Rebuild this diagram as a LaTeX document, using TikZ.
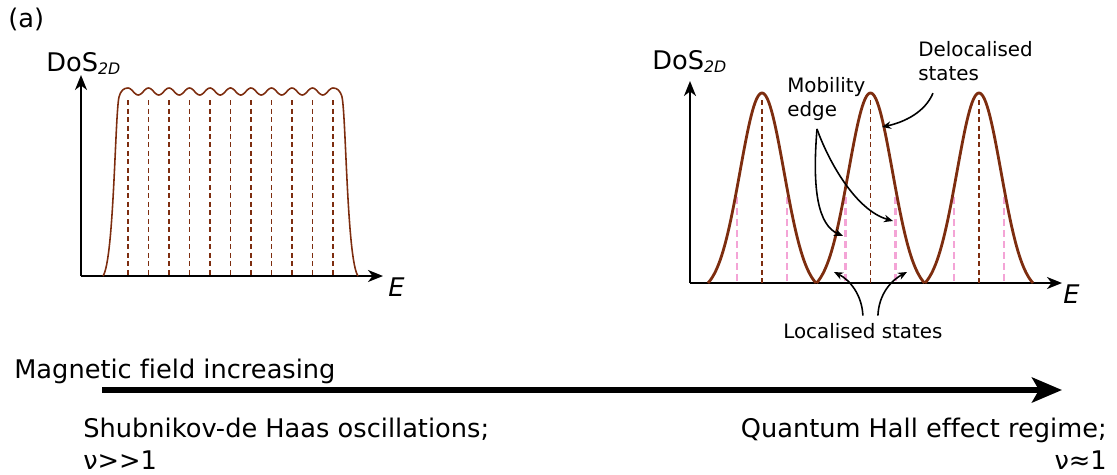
\documentclass[tikz,border=0pt]{standalone}
\usepackage{fontspec}
\setmainfont{DejaVu Sans}[Ligatures=NoCommon]
\usetikzlibrary{arrows.meta}
\definecolor{dosbrown}{RGB}{125,45,15}
\definecolor{edgepink}{RGB}{244,164,214}

\begin{document}
\begin{tikzpicture}[x=0.02cm, y=-0.02cm,
    axisline/.style={line width=1.1pt, -{Stealth[length=3mm, width=2.4mm, inset=0.9mm]}},
    band/.style={dosbrown, line width=0.9pt},
    peak/.style={dosbrown, line width=1.6pt},
    level/.style={dosbrown, line width=1pt, dash pattern=on 0.1cm off 0.07cm},
    edgeline/.style={edgepink, line width=1.3pt, dash pattern=on 0.14cm off 0.08cm},
    pointer/.style={line width=0.9pt, -{Stealth[length=1.8mm, width=1.5mm]}},
    fieldarrow/.style={line width=3.2pt, -{Stealth[length=6mm, width=5mm, inset=1.4mm]}},
    smalllabel/.style={font=\fontsize{11.3}{13.7}\selectfont, inner sep=0pt, align=left},
    biglabel/.style={font=\fontsize{14.6}{17.5}\selectfont, inner sep=0pt}]
    \useasboundingbox (0,0) rectangle (1117,474);

    % Panel label
    \node[biglabel, anchor=base west] (panel) at (8,27) {(a)};

    % Left panel: axes
    \coordinate (lorigin) at (81,276);
    \coordinate (ltop) at (81,75);
    \coordinate (lright) at (383,276);
    \draw[axisline] (lorigin) -- (ltop);
    \draw[axisline] (lorigin) -- (lright);
    \node[biglabel, anchor=base west] (ldos) at (46,71) {DoS\raisebox{-2pt}{\fontsize{9}{10}\selectfont\itshape 2D}};
    \node[biglabel, anchor=base west] (lenergy) at (388,296) {\itshape E};

    % Left panel: Landau levels under a broad band
    \foreach \i in {0,...,10} {
        \draw[level] ({128+20.5*\i},100) -- ({128+20.5*\i},276);
    }
    \draw[band] (103,276) .. controls (114,260) and (115,115) .. (119,97)
        .. controls (121,90) and (124,88) .. (128,88)
        -- plot[domain=128:333, samples=220] (\x, {91.5-3.5*cos(17.561*(\x-128))})
        -- (333,88) .. controls (337,88) and (340,90) .. (342,97)
        .. controls (346,115) and (347,260) .. (358,276);

    % Right panel: axes
    \coordinate (rorigin) at (690,283);
    \coordinate (rtop) at (690,81);
    \coordinate (rright) at (1062,283);
    \draw[axisline] (rorigin) -- (rtop);
    \draw[axisline] (rorigin) -- (rright);
    \node[biglabel, anchor=base west] (rdos) at (652,69) {DoS\raisebox{-2pt}{\fontsize{9}{10}\selectfont\itshape 2D}};
    \node[biglabel, anchor=base west] (renergy) at (1063,303) {\itshape E};

    % Right panel: separated Landau levels
    \foreach \c in {762,870.5,979} {
        \draw[edgeline] (\c-25,197) -- (\c-25,283);
        \draw[edgeline] (\c+25,197) -- (\c+25,283);
        \draw[level] (\c,100) -- (\c,283);
        \draw[peak] plot[domain=-54:54, samples=81] ({\c+\x}, {283-190*(exp(-(\x*\x)/968)-0.0492)/0.9508});
    }

    % Annotations
    \node[smalllabel, anchor=north west] (mobility) at (787,77) {Mobility\\edge};
    \node[smalllabel, anchor=north west] (deloc) at (918,41) {Delocalised\\states};
    \node[smalllabel, anchor=base west] (loc) at (783,338) {Localised states};
    \coordinate (edgeA) at (843,236);
    \coordinate (edgeB) at (893,221);
    \coordinate (centre) at (882,127);
    \coordinate (tailA) at (834,272);
    \coordinate (tailB) at (907,272);
    \draw[pointer] ([shift={(30,8)}]mobility.south west) .. controls (828,160) and (855,210) .. (edgeB);
    \draw[pointer] ([shift={(30,8)}]mobility.south west) .. controls (812,190) and (818,225) .. (edgeA);
    \draw[pointer] ([shift={(15,12)}]deloc.south west) .. controls (925,112) and (905,122) .. (centre);
    \draw[pointer] ([shift={(0,-7)}]loc.north) .. controls (862,295) and (850,280) .. (tailA);
    \draw[pointer] ([shift={(15,-7)}]loc.north) .. controls (879,293) and (892,280) .. (tailB);

    % Field axis
    \node[biglabel, anchor=base west] (field) at (14,378.5) {Magnetic field increasing};
    \coordinate (fieldstart) at (102,390);
    \coordinate (fieldend) at (1062,390);
    \draw[fieldarrow] (fieldstart) -- (fieldend);

    % Regimes
    \node[biglabel, anchor=base west] (sdh) at (83,437) {Shubnikov-de Haas oscillations;};
    \node[biglabel, anchor=base west] (sdhnu) at (83,469) {ν>\kern0pt>1};
    \node[biglabel, anchor=base east] (qhe) at (1107,437) {Quantum Hall effect regime;};
    \node[biglabel, anchor=base east] (qhenu) at (1107,469) {ν≈1};

\end{tikzpicture}
\end{document}
